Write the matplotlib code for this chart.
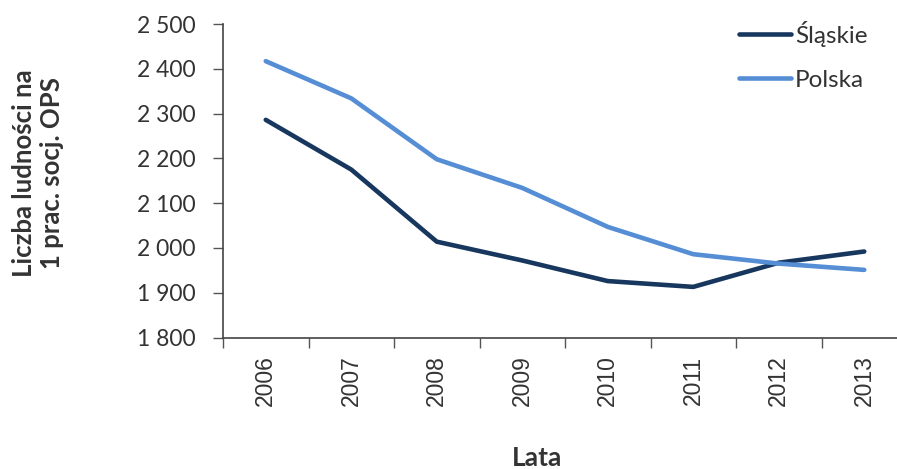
import matplotlib
matplotlib.use("Agg")
import matplotlib.pyplot as plt
from matplotlib.ticker import FuncFormatter, MultipleLocator

years = ["2006", "2007", "2008", "2009", "2010", "2011", "2012", "2013"]
slaskie = [2286, 2175, 2014, 1972, 1926, 1913, 1967, 1992]
polska = [2417, 2334, 2198, 2134, 2047, 1986, 1965, 1951]

dark = "#17375E"
light = "#558ED5"

fig = plt.figure(figsize=(8.97, 4.69), dpi=100)
W, H = 897, 469
left, right_px = 223, 223 + 8 * 85.5
top, bottom = 24, 337.5
ax = fig.add_axes([left / W, 1 - bottom / H, (right_px - left) / W, (bottom - top) / H])

x = list(range(len(years)))
ax.plot(x, slaskie, color=dark, lw=3.3, label="Śląskie", solid_capstyle="round")
ax.plot(x, polska, color=light, lw=3.3, label="Polska", solid_capstyle="round")

ax.set_xlim(-0.5, 7.5)
ax.set_ylim(1800, 2500)
ax.yaxis.set_major_locator(MultipleLocator(100))
ax.yaxis.set_major_formatter(FuncFormatter(lambda v, p: f"{int(v):,}".replace(",", " ")))

ax.set_xticks([i - 0.5 for i in range(len(years) + 1)])
ax.set_xticklabels([])
ax.set_xticks(x, minor=True)
ax.set_xticklabels(years, minor=True, rotation=90, fontsize=16.5,
                   family="Liberation Sans", color="#333333")
ax.tick_params(axis="x", which="minor", length=0, pad=13)
ax.tick_params(axis="x", which="major", length=7, width=1, color="#555555", direction="out")
ax.tick_params(axis="y", length=7, width=1, color="#555555", direction="out", pad=13)
for lab in ax.get_yticklabels():
    lab.set_family("Lato")
    lab.set_fontsize(16.5)
    lab.set_color("#333333")

for s in ["top", "right"]:
    ax.spines[s].set_visible(False)
for s in ["left", "bottom"]:
    ax.spines[s].set_color("#444444")
    ax.spines[s].set_linewidth(1.2)

fig.text(38 / W, 1 - 173 / H, "Liczba ludności na\n1 prac. socj. OPS", rotation=90,
         ha="center", va="center", fontsize=18.5, fontweight="bold", family="Lato",
         color="#333333", linespacing=1.2)
fig.text(537 / W, 1 - 458 / H, "Lata", ha="center", va="center", fontsize=19,
         fontweight="bold", family="Lato", color="#333333")

leg = fig.legend(loc="upper left", bbox_to_anchor=(717 / W, 1 + 1 / H), frameon=False,
                 prop={"family": "Lato", "size": 17.5}, handlelength=2.15,
                 handletextpad=0.15, labelspacing=0.95, labelcolor="#333333")

fig.savefig("out.png", dpi=100)
